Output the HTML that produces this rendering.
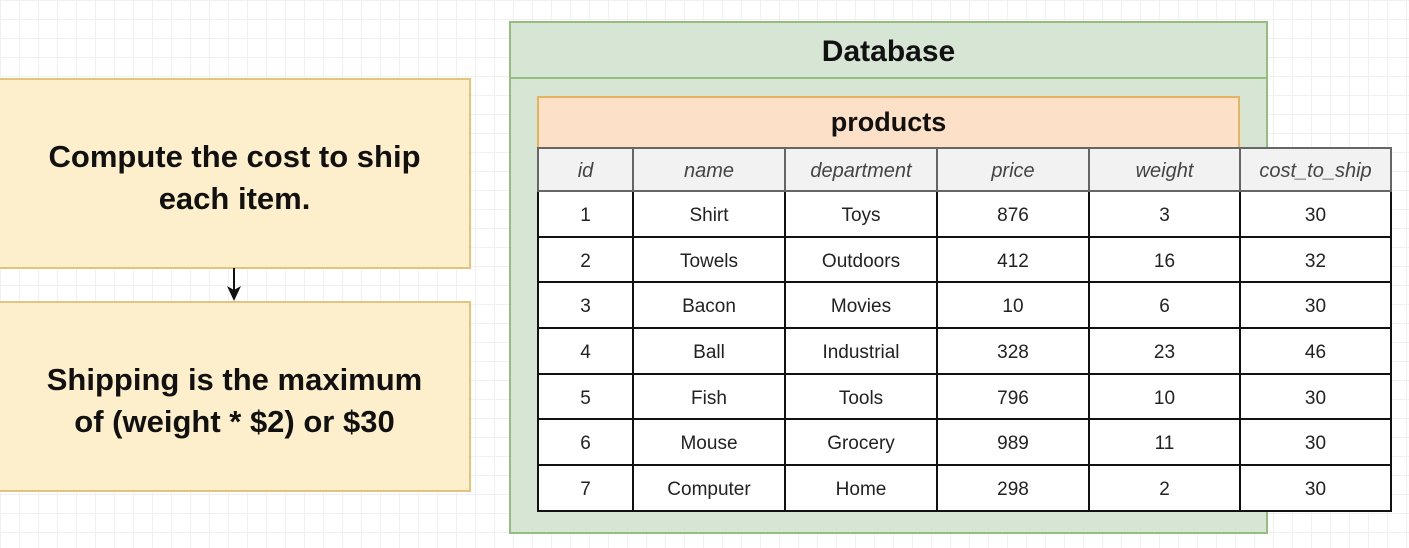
<!DOCTYPE html>
<html><head><style>
html,body{margin:0;padding:0;}
body{width:1409px;height:548px;position:relative;overflow:hidden;background:#fff;
background-image:linear-gradient(#f0f0f0 1px,transparent 1px),linear-gradient(90deg,#f0f0f0 1px,transparent 1px);background-size:19px 19px;
font-family:"Liberation Sans",Arial,sans-serif;}
.box{position:absolute;box-sizing:border-box;}
.left{background:#fdefcb;border:2px solid #e3c47c;display:flex;align-items:center;justify-content:center;text-align:center;font-weight:bold;font-size:31px;line-height:42px;color:#111;padding-top:9px;}
table{position:absolute;left:537px;top:147px;border-collapse:collapse;}
td{border:2px solid #111;text-align:center;font-size:19px;color:#222;height:39.7px;padding:4px 0 0 0;background:#fff;}
th{border:2px solid #666;background:#f2f2f2;font-weight:normal;font-style:italic;font-size:20px;color:#444;height:37px;padding:4px 0 0 0;}
</style></head><body>
<div class="box left" style="left:-2px;top:78px;width:473px;height:191px;">Compute the cost to ship<br>each item.</div>
<div class="box left" style="left:-2px;top:301px;width:473px;height:191px;">Shipping is the maximum<br>of (weight * $2) or $30</div>
<div class="box" style="left:233px;top:268px;width:2px;height:22px;background:#111;"></div>
<svg class="box" style="left:225px;top:284px" width="18" height="18"><polygon points="2,2 9,17 16,2 9,6" fill="#111"/></svg>
<div class="box" style="left:509px;top:21px;width:759px;height:513px;background:#d6e5d4;border:2px solid #94be7e;"></div>
<div class="box" style="left:509px;top:77px;width:759px;height:2px;background:#94be7e;"></div>
<div class="box" style="left:509px;top:23px;width:759px;height:57px;display:flex;align-items:center;justify-content:center;font-weight:bold;font-size:30px;color:#111;">Database</div>
<div class="box" style="left:537px;top:96px;width:703px;height:52px;background:#fde0c8;border:2px solid #e6b45e;border-bottom:none;display:flex;align-items:center;justify-content:center;font-weight:bold;font-size:27px;color:#111;padding-bottom:2px;">products</div>
<table>
<tr><th style="width:93px">id</th><th style="width:150px">name</th><th style="width:150px">department</th><th style="width:150px">price</th><th style="width:149px">weight</th><th style="width:149px">cost_to_ship</th></tr>
<tr><td>1</td><td>Shirt</td><td>Toys</td><td>876</td><td>3</td><td>30</td></tr>
<tr><td>2</td><td>Towels</td><td>Outdoors</td><td>412</td><td>16</td><td>32</td></tr>
<tr><td>3</td><td>Bacon</td><td>Movies</td><td>10</td><td>6</td><td>30</td></tr>
<tr><td>4</td><td>Ball</td><td>Industrial</td><td>328</td><td>23</td><td>46</td></tr>
<tr><td>5</td><td>Fish</td><td>Tools</td><td>796</td><td>10</td><td>30</td></tr>
<tr><td>6</td><td>Mouse</td><td>Grocery</td><td>989</td><td>11</td><td>30</td></tr>
<tr><td>7</td><td>Computer</td><td>Home</td><td>298</td><td>2</td><td>30</td></tr>
</table>
</body></html>
